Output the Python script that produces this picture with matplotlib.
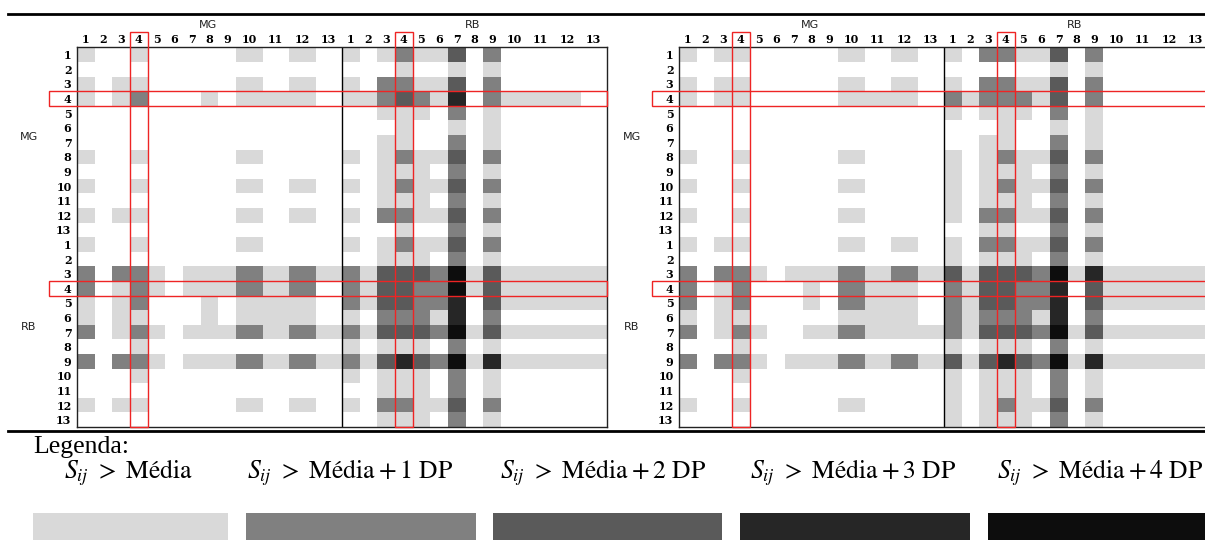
"""
Two 26x26 significance matrices (MG / RB blocks) with grey levels
S_ij > mean + k DP, plus the legend strip underneath.
Output: out.png
"""

import numpy as np
import matplotlib.pyplot as plt
from matplotlib.colors import ListedColormap
from matplotlib.patches import Rectangle
from matplotlib.lines import Line2D

plt.rcParams["mathtext.fontset"] = "stix"

# level codes: 0 = none, 1 = > Média, 2 = > Média + 1 DP, ... 5 = > Média + 4 DP
# each row string = MG columns 1..13 followed by RB columns 1..13
LEFT_MG_ROWS = [
    "1001000001010" + "1012113020000",
    "0000000000000" + "0001001010000",
    "1011000001010" + "1022113020000",
    "1012000101110" + "1123214021110",
    "0000000000000" + "0011102010000",
    "0000000000000" + "0001001010000",
    "0000000000000" + "0011002010000",
    "1001000001000" + "1012113020000",
    "0000000000000" + "0011102010000",
    "1001000001010" + "1012113020000",
    "0000000000000" + "0011102010000",
    "1011000001010" + "1022113020000",
    "0000000000000" + "0001002010000",
]
LEFT_RB_ROWS = [
    "1001000001000" + "1012113020000",
    "0000000000000" + "0011102010000",
    "2022101112121" + "2133325131111",
    "2012101112120" + "2133225131111",
    "1012000101110" + "2133224031111",
    "1011000101110" + "1022214020000",
    "2012101112121" + "2133325131111",
    "0001000000000" + "1011102010000",
    "2022101112121" + "2134325141111",
    "0001000000000" + "1011102010000",
    "0000000000000" + "0011102010000",
    "1011000001010" + "1022113020000",
    "0000000000000" + "0011102010000",
]
RIGHT_MG_ROWS = [
    "1011000001010" + "1022113020000",
    "0000000000000" + "0000001010000",
    "1011000001010" + "1022113020000",
    "1011000001110" + "2122213020000",
    "0000000000000" + "1011102010000",
    "0000000000000" + "0001001010000",
    "0000000000000" + "0011002010000",
    "1001000001000" + "1012113020000",
    "0000000000000" + "1011102010000",
    "1001000001000" + "1012113020000",
    "0000000000000" + "1011102010000",
    "1001000001000" + "1022113020000",
    "0000000000000" + "0011002010000",
]
RIGHT_RB_ROWS = [
    "1011000001010" + "1022113020000",
    "0000000000000" + "1011102010000",
    "2022101112121" + "3133325141111",
    "2012000102110" + "2133224031111",
    "2012000102110" + "2133224031111",
    "1011000001110" + "2122214020000",
    "2012100112111" + "2133325131111",
    "0001000000000" + "1011102010000",
    "2022101112121" + "3134325141111",
    "0001000000000" + "1011102010000",
    "0000000000000" + "1011102010000",
    "1001000001000" + "1012113020000",
    "0000000000000" + "1011102010000",
]

NUM_LABELS = ["1", "2", "3", "4", "5", "6", "7", "8", "9", "10", "11", "12", "13"]
GROUPS = ["MG", "RB"]
LEVEL_COLORS = ["#ffffff", "#d9d9d9", "#808080", "#5a5a5a", "#262626", "#0d0d0d"]
LEGEND_LABELS = [
    r"$S_{ij}\ >\ \mathrm{Média}$",
    r"$S_{ij}\ >\ \mathrm{Média} + 1\ \mathrm{DP}$",
    r"$S_{ij}\ >\ \mathrm{Média} + 2\ \mathrm{DP}$",
    r"$S_{ij}\ >\ \mathrm{Média} + 3\ \mathrm{DP}$",
    r"$S_{ij}\ >\ \mathrm{Média} + 4\ \mathrm{DP}$",
]

W, H = 1205, 540
NUM_FONT = dict(family="DejaVu Serif", fontweight="bold", fontsize=8)
GRP_FONT = dict(family="DejaVu Sans", fontsize=8, color="#222222")
RED = "#ee2424"


def to_grid(mg_rows, rb_rows):
    return np.array([[int(c) for c in s] for s in mg_rows + rb_rows])


def px_box(x0, y0, x1, y1):
    return [x0 / W, 1 - y1 / H, (x1 - x0) / W, (y1 - y0) / H]


# column widths: single-digit columns narrow, two-digit columns wider
col_w = np.array(([1.0] * 9 + [1.5] * 4) * 2)
x_edges = np.concatenate([[0], np.cumsum(col_w)])
x_mid = (x_edges[:-1] + x_edges[1:]) / 2
y_edges = np.arange(27)

cmap = ListedColormap(LEVEL_COLORS)


def draw_matrix(ax, grid, hbox_x0):
    ax.pcolormesh(x_edges, y_edges, grid, cmap=cmap, vmin=-0.5, vmax=5.5,
                  edgecolors="none", linewidth=0)
    ax.set_xlim(0, x_edges[-1])
    ax.set_ylim(26, 0)
    ax.axvline(x_edges[13], color="black", lw=1.0)
    for s in ax.spines.values():
        s.set_color("#222222")
        s.set_linewidth(1.0)

    ax.set_xticks(x_mid)
    ax.set_xticklabels(NUM_LABELS * 2, **NUM_FONT)
    ax.tick_params(axis="x", top=True, bottom=False, labeltop=True,
                   labelbottom=False, length=0, pad=1.5)
    ax.set_yticks(np.arange(26) + 0.5)
    ax.set_yticklabels(NUM_LABELS * 2, **NUM_FONT)
    ax.tick_params(axis="y", length=0, pad=4)

    # block headers
    for k, g in enumerate(GROUPS):
        ax.text(x_edges[13 * k] + 7.4, -1.55, g, ha="center", va="center",
                clip_on=False, **GRP_FONT)
        ax.text(hbox_x0 - 1.15, 13 * k + 6.15, g, ha="center", va="center",
                clip_on=False, **GRP_FONT)

    # red highlight boxes on element 4 of each block
    for k in range(2):
        c = 13 * k + 3
        ax.add_patch(Rectangle((x_edges[c], -1.07), col_w[c], 27.07, fill=False,
                               ec=RED, lw=1.0, clip_on=False, zorder=5))
        ax.add_patch(Rectangle((hbox_x0, c), x_edges[-1] - hbox_x0, 1, fill=False,
                               ec=RED, lw=1.0, clip_on=False, zorder=5))


fig = plt.figure(figsize=(W / 100, H / 100), dpi=100)

ax_l = fig.add_axes(px_box(77, 47.3, 607, 427))
draw_matrix(ax_l, to_grid(LEFT_MG_ROWS, LEFT_RB_ROWS), -1.58)

ax_r = fig.add_axes(px_box(679, 47.3, 1209, 427))
draw_matrix(ax_r, to_grid(RIGHT_MG_ROWS, RIGHT_RB_ROWS), -1.53)

# horizontal rules
for y in (13.5, 431):
    fig.add_artist(Line2D([8 / W, 1], [1 - y / H, 1 - y / H], color="black", lw=2.0))

# legend strip
ax_leg = fig.add_axes(px_box(0, 432, W, H))
ax_leg.set_xlim(0, W)
ax_leg.set_ylim(H, 432)
ax_leg.axis("off")
sw_left = [33, 246, 493, 740, 988]
sw_right = [228, 476, 722, 970, 1210]
txt_x = [64, 247, 500, 750, 997]
ax_leg.text(33, 453, "Legenda:", family="Liberation Serif", fontsize=18.5,
            va="baseline", ha="left")
for i, lab in enumerate(LEGEND_LABELS):
    ax_leg.bar(sw_left[i], 30, width=sw_right[i] - sw_left[i], bottom=513,
               align="edge", color=LEVEL_COLORS[i + 1], lw=0)
    ax_leg.text(txt_x[i], 478, lab, fontsize=18.5, va="baseline", ha="left")

fig.savefig("out.png", dpi=100)
